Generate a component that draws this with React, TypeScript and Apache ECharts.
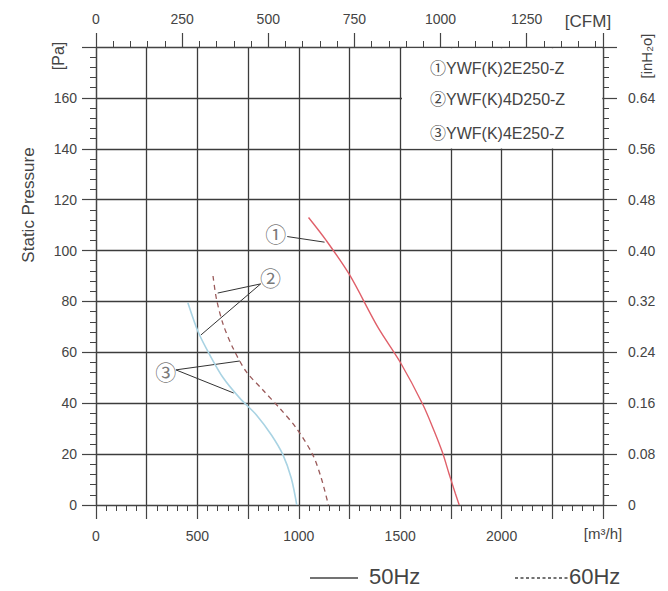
import { useEffect, useRef } from 'react';
import * as echarts from 'echarts';

// ---- data ----
const M3H_PER_CFM = 1.699;
const FLOW_MAX = 2500; // m3/h
const PA_MAX = 180;
const INH2O_MAX = 0.72;

// ① YWF(K)2E250-Z  (50Hz, solid red)
const curve1Flow = [1048, 1135, 1250, 1389, 1501, 1611, 1668, 1709, 1740, 1772, 1791];
const curve1Pa = [113, 104, 90.5, 70, 56, 39.6, 29, 20.5, 12.5, 4.5, 0];
// 60Hz dashed curve
const curve2Flow = [577, 594, 627, 676, 741, 823, 906, 988, 1069, 1111, 1146];
const curve2Pa = [90, 81, 71, 61.6, 52.4, 45.2, 38, 30.2, 19.7, 10.5, 0];
// 50Hz light blue curve
const curve3Flow = [453, 504, 561, 627, 709, 791, 865, 922, 963, 990];
const curve3Pa = [79.5, 68, 59, 50, 42, 35.4, 27.5, 19.7, 10.5, 0];

// annotation leaders (data coordinates)
const leader1 = [[943, 105.5], [1127, 103.3]];
const leader2a = [[812, 86.9], [600, 83.3]];
const leader2b = [[812, 86.9], [517, 66.8]];
const leader3a = [[394, 53.1], [709, 56.6]];
const leader3b = [[394, 53.1], [679, 44]];
const markerLabels = ['①', '②', '③'];
const markerPos = [[886, 107], [861, 89.6], [344, 52.7]];

const legendNames = ['①YWF(K)2E250-Z', '②YWF(K)4D250-Z', '③YWF(K)4E250-Z'];
const freqLabels = ['50Hz', '60Hz'];
const axisTitles = ['Static Pressure', '[Pa]', '[inH₂o]', '[CFM]', '[m³/h]'];

const FONT = 'Liberation Sans, Arial, Noto Sans CJK SC, sans-serif';
const AX = '#444';

function zip(xs: number[], ys: number[]) {
  return xs.map((x, i) => [x, ys[i]]);
}

function leaderSeries(d: number[][]) {
  return {
    type: 'line',
    data: d,
    showSymbol: false,
    silent: true,
    lineStyle: { color: '#333', width: 1 },
    z: 3,
  };
}

export default function App() {
  const ref = useRef<HTMLDivElement>(null);
  useEffect(() => {
    if (!ref.current) return;
    const chart = echarts.init(ref.current, undefined, { renderer: 'svg' });
    const tickCommon = {
      axisLine: { show: true, onZero: false, lineStyle: { color: AX, width: 1.2 } },
      axisTick: { show: true, inside: false, length: 14, lineStyle: { color: AX, width: 1.2 } },
      minorTick: { show: true, splitNumber: 5, length: 6, lineStyle: { color: AX, width: 1 } },
      axisLabel: { color: '#444', fontSize: 14, fontFamily: FONT },
    };
    const option: any = {
      animation: false,
      textStyle: { fontFamily: FONT },
      grid: { left: 96, right: 65, top: 47, bottom: 86 },
      xAxis: [
        {
          type: 'value',
          position: 'bottom',
          min: 0,
          max: FLOW_MAX,
          interval: 250,
          ...tickCommon,
          axisLabel: {
            ...tickCommon.axisLabel,
            margin: 24,
            formatter: (v: number) => (v % 500 === 0 && v < FLOW_MAX ? String(v) : ''),
          },
          splitLine: { show: true, lineStyle: { color: '#3c3c3c', width: 1.3 } },
        },
        {
          type: 'value',
          position: 'top',
          min: 0,
          max: FLOW_MAX / M3H_PER_CFM,
          interval: 250,
          ...tickCommon,
          axisLabel: {
            ...tickCommon.axisLabel,
            margin: 21,
            formatter: (v: number) => (Math.abs(v % 250) < 1e-6 && v < 1400 ? String(v) : ''),
          },
          splitLine: { show: false },
        },
      ],
      yAxis: [
        {
          type: 'value',
          position: 'left',
          min: 0,
          max: PA_MAX,
          interval: 20,
          ...tickCommon,
          axisLabel: {
            ...tickCommon.axisLabel,
            margin: 19,
            formatter: (v: number) => (v < PA_MAX ? String(v) : ''),
          },
          splitLine: { show: true, lineStyle: { color: '#3c3c3c', width: 1.3 } },
        },
        {
          type: 'value',
          position: 'right',
          min: 0,
          max: INH2O_MAX,
          interval: 0.08,
          ...tickCommon,
          axisLabel: {
            ...tickCommon.axisLabel,
            margin: 25,
            formatter: (v: number) => (v < 0.7 ? (v === 0 ? '0' : v.toFixed(2)) : ''),
          },
          splitLine: { show: false },
        },
      ],
      series: [
        {
          type: 'line',
          data: zip(curve1Flow, curve1Pa),
          smooth: 0.3,
          showSymbol: false,
          lineStyle: { color: '#e0606a', width: 1.4 },
          z: 4,
        },
        {
          type: 'line',
          data: zip(curve2Flow, curve2Pa),
          smooth: 0.3,
          showSymbol: false,
          lineStyle: { color: '#9a5a5a', width: 1.3, type: [5, 4] },
          z: 4,
        },
        {
          type: 'line',
          data: zip(curve3Flow, curve3Pa),
          smooth: 0.3,
          showSymbol: false,
          lineStyle: { color: '#a9d3e3', width: 1.6 },
          z: 4,
        },
        leaderSeries(leader1),
        leaderSeries(leader2a),
        leaderSeries(leader2b),
        leaderSeries(leader3a),
        leaderSeries(leader3b),
        {
          type: 'scatter',
          data: markerPos.map((p, i) => ({ value: p, name: markerLabels[i] })),
          symbolSize: 1,
          itemStyle: { color: 'rgba(0,0,0,0)' },
          silent: true,
          z: 5,
          label: {
            show: true,
            position: 'inside',
            formatter: (p: any) => p.name,
            fontSize: 21,
            color: '#555',
            fontFamily: 'Noto Sans CJK SC, DejaVu Sans, sans-serif',
          },
        },
      ],
      graphic: [
        // white legend panel hiding the grid in the upper right
        {
          type: 'rect',
          z: 1,
          shape: { x: 402, y: 48.2, width: 200.3, height: 100.3 },
          style: { fill: '#fff' },
          silent: true,
        },
        ...legendNames.map((t, i) => ({
          type: 'text',
          z: 2,
          x: 430,
          y: [68, 99, 133][i],
          style: {
            text: t,
            fontSize: 16,
            fill: '#444',
            fontFamily: FONT,
            verticalAlign: 'middle',
            align: 'left',
          },
        })),
        {
          type: 'text',
          x: 28.5,
          y: 205,
          rotation: Math.PI / 2,
          style: { text: axisTitles[0], fontSize: 17, fill: '#444', fontFamily: FONT, align: 'center', verticalAlign: 'middle' },
        },
        {
          type: 'text',
          x: 58,
          y: 56,
          rotation: Math.PI / 2,
          style: { text: axisTitles[1], fontSize: 16, fill: '#444', fontFamily: FONT, align: 'center', verticalAlign: 'middle' },
        },
        {
          type: 'text',
          x: 646,
          y: 56,
          rotation: Math.PI / 2,
          style: { text: axisTitles[2], fontSize: 15, fill: '#444', fontFamily: FONT, align: 'center', verticalAlign: 'middle' },
        },
        {
          type: 'text',
          x: 588,
          y: 21,
          style: { text: axisTitles[3], fontSize: 17, fill: '#444', fontFamily: FONT, align: 'center', verticalAlign: 'middle' },
        },
        {
          type: 'text',
          x: 603,
          y: 533,
          style: { text: axisTitles[4], fontSize: 15, fill: '#444', fontFamily: FONT, align: 'center', verticalAlign: 'middle' },
        },
        {
          type: 'line',
          shape: { x1: 310, y1: 578, x2: 358, y2: 578 },
          style: { stroke: '#444', lineWidth: 1.3 },
        },
        {
          type: 'text',
          x: 369,
          y: 576,
          style: { text: freqLabels[0], fontSize: 22, fill: '#444', fontFamily: FONT, align: 'left', verticalAlign: 'middle' },
        },
        {
          type: 'line',
          shape: { x1: 515, y1: 578, x2: 568, y2: 578 },
          style: { stroke: '#444', lineWidth: 1.3, lineDash: [3, 2.5] },
        },
        {
          type: 'text',
          x: 569,
          y: 576,
          style: { text: freqLabels[1], fontSize: 22, fill: '#444', fontFamily: FONT, align: 'left', verticalAlign: 'middle' },
        },
      ],
    };
    chart.setOption(option);
    return () => chart.dispose();
  }, []);
  return (
    <div
      ref={ref}
      style={{ position: 'absolute', left: 0, top: 0, width: 668, height: 591, background: '#fff' }}
    />
  );
}
